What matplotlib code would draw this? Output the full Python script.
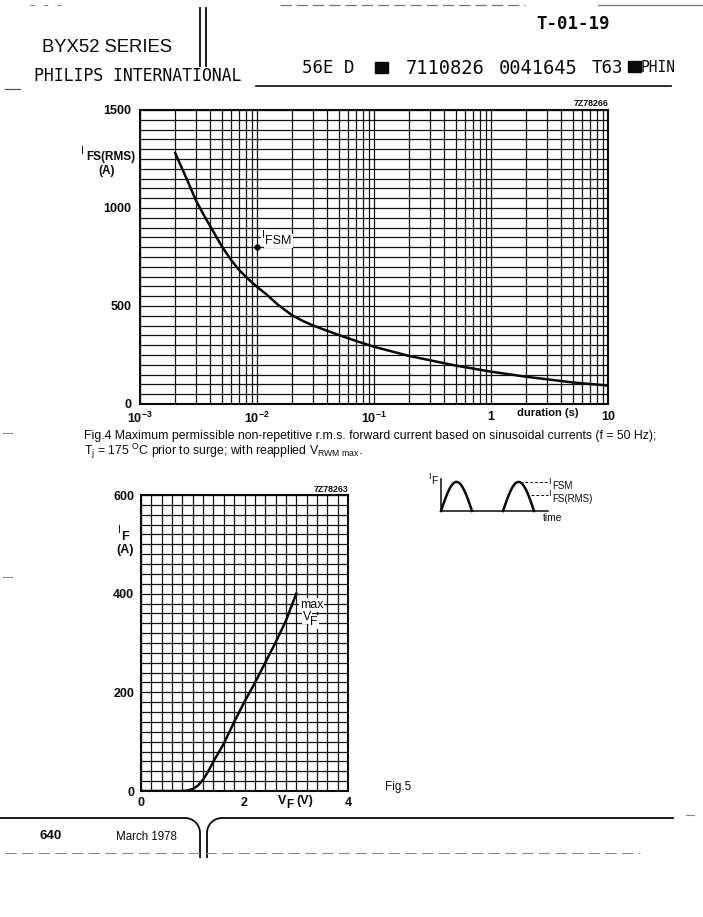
import numpy as np
import matplotlib.pyplot as plt
from matplotlib.patches import Rectangle
from matplotlib.ticker import FixedLocator, LogLocator, MultipleLocator, NullFormatter

plt.rcParams['font.family'] = ['Liberation Sans', 'DejaVu Sans']
plt.rcParams['mathtext.fontset'] = 'custom'
plt.rcParams['mathtext.rm'] = 'Liberation Sans'
plt.rcParams['mathtext.bf'] = 'Liberation Sans:bold'

# Fig.4 surge current vs duration
duration_s = [2e-3, 2.5e-3, 3e-3, 3.5e-3, 4e-3, 5e-3, 6e-3, 7e-3, 8e-3, 9e-3, 1e-2,
              1.2e-2, 1.5e-2, 2e-2, 2.5e-2, 3e-2, 4e-2, 5e-2, 7e-2, 1e-1,
              2e-1, 5e-1, 1, 2, 5, 10]
ifs_rms = [1280, 1150, 1040, 965, 905, 805, 735, 685, 650, 622, 598,
           560, 508, 452, 422, 401, 373, 352, 322, 292,
           245, 196, 165, 139, 110, 94]
ifsm_point = (1e-2, 800)
dur_ticks = [1e-3, 1e-2, 1e-1, 1, 10]
dur_ticklabels = [r'$\mathbf{10^{-3}}$', r'$\mathbf{10^{-2}}$', r'$\mathbf{10^{-1}}$', '1', '10']

# Fig.5 forward characteristic
vf = [0, 0.8, 0.9, 1.0, 1.1, 1.2, 1.3, 1.4, 1.5, 1.6, 1.8, 2.0, 2.2, 2.4, 2.6, 2.8, 3.0]
i_f = [0, 0, 1, 4, 11, 23, 40, 60, 78, 96, 140, 181, 219, 260, 301, 345, 400]

# waveform sketch: hump start/end times, peak and rms levels
humps = [(0.0, 1.0), (2.0, 3.0)]
peak_level = 1.0
rms_level = 0.55

W, H = 703, 917
fig = plt.figure(figsize=(W / 100, H / 100), dpi=100)

GRID = '#141414'
INK = '#0a0a0a'


def box(l, t, r, b):
    return [l / W, 1 - b / H, (r - l) / W, (b - t) / H]


def ptext(x, y, s, **kw):
    kw.setdefault('va', 'center')
    kw.setdefault('color', INK)
    return fig.text(x / W, 1 - y / H, s, **kw)


# page layer for rules and borders
page = fig.add_axes([0, 0, 1, 1])
page.set_xlim(0, W)
page.set_ylim(H, 0)
page.axis('off')

# ---- Fig.4 ----
ax1 = fig.add_axes(box(140, 110, 608, 404))
ax1.set_xscale('log')
ax1.set_xlim(1e-3, 10)
ax1.set_ylim(0, 1500)
ax1.xaxis.set_major_locator(FixedLocator(dur_ticks))
ax1.set_xticklabels(dur_ticklabels)
ax1.xaxis.set_minor_locator(LogLocator(base=10, subs=np.arange(2, 10), numticks=20))
ax1.xaxis.set_minor_formatter(NullFormatter())
ax1.yaxis.set_major_locator(MultipleLocator(500))
ax1.yaxis.set_minor_locator(MultipleLocator(50))
ax1.grid(which='both', color=GRID, lw=0.9)
ax1.tick_params(which='both', length=0, labelsize=9, colors=INK)
ax1.tick_params(axis='x', pad=5)
ax1.tick_params(axis='y', pad=6)
for lab in ax1.get_xticklabels() + ax1.get_yticklabels():
    lab.set_fontweight('bold')
for sp in ax1.spines.values():
    sp.set_linewidth(1.5)
    sp.set_color(INK)

ax1.plot(duration_s, ifs_rms, color=INK, lw=1.8)
ax1.plot(*ifsm_point, 'o', color=INK, ms=3.5)

ptext(84, 151, 'I', fontsize=7.5, ha='right')
ptext(135, 157, 'FS(RMS)', fontsize=8.5, fontweight='bold', ha='right')
ptext(107, 171, '(A)', fontsize=8.5, fontweight='bold', ha='center')
ptext(262, 235, 'I', fontsize=7.5,
      bbox=dict(facecolor='white', edgecolor='none', pad=0.5))
ptext(265, 241, 'FSM', fontsize=9,
      bbox=dict(facecolor='white', edgecolor='none', pad=0.8))
ptext(517, 413, 'duration (s)', fontsize=8, fontweight='bold')
ptext(608, 104, '7Z78266', fontsize=6.3, fontweight='bold', ha='right')

ptext(84, 436, 'Fig.4 Maximum permissible non-repetitive r.m.s. forward current based on '
      'sinusoidal currents (f = 50 Hz);', fontsize=8.85)
ptext(84, 451, r'T$_\mathregular{j}$ = 175 $^\mathregular{O}$C prior to surge; with reapplied '
      r'V$_\mathregular{RWM\ max}$.', fontsize=8.85)

# ---- Fig.5 ----
ax2 = fig.add_axes(box(141, 495, 348, 791))
ax2.set_xlim(0, 4)
ax2.set_ylim(0, 600)
ax2.xaxis.set_major_locator(MultipleLocator(2))
ax2.xaxis.set_minor_locator(MultipleLocator(0.2))
ax2.yaxis.set_major_locator(MultipleLocator(200))
ax2.yaxis.set_minor_locator(MultipleLocator(20))
ax2.grid(which='both', color=GRID, lw=0.9)
ax2.tick_params(which='both', length=0, labelsize=9, colors=INK)
ax2.tick_params(axis='x', pad=4)
ax2.tick_params(axis='y', pad=5)
for lab in ax2.get_xticklabels() + ax2.get_yticklabels():
    lab.set_fontweight('bold')
for sp in ax2.spines.values():
    sp.set_linewidth(1.5)
    sp.set_color(INK)

ax2.plot(vf, i_f, color=INK, lw=1.8)

ptext(118, 530, 'I', fontsize=7.5)
ptext(121, 537, 'F', fontsize=9, fontweight='bold')
ptext(125, 550, '(A)', fontsize=9, fontweight='bold', ha='center')
ptext(300, 605, 'max', fontsize=9,
      bbox=dict(facecolor='white', edgecolor='none', pad=0.6))
ptext(303, 617, 'V', fontsize=9,
      bbox=dict(facecolor='white', edgecolor='none', pad=0.6))
ptext(310, 622, 'F', fontsize=9,
      bbox=dict(facecolor='white', edgecolor='none', pad=0.6))
ptext(278, 801, 'V', fontsize=9, fontweight='bold')
ptext(286, 805, 'F', fontsize=8.5, fontweight='bold')
ptext(296, 801, '(V)', fontsize=9, fontweight='bold')
ptext(348, 489, '7Z78263', fontsize=6.3, fontweight='bold', ha='right')
ptext(385, 787, 'Fig.5', fontsize=8.5)

# ---- waveform sketch ----
ax3 = fig.add_axes(box(441, 479, 548, 511))
ax3.set_xlim(0, 3.45)
ax3.set_ylim(0, 1.1)
ax3.set_xticks([])
ax3.set_yticks([])
ax3.patch.set_alpha(0)
for side in ('top', 'right'):
    ax3.spines[side].set_visible(False)
for side in ('left', 'bottom'):
    ax3.spines[side].set_linewidth(1.1)
    ax3.spines[side].set_color(INK)
for t0, t1 in humps:
    t = np.linspace(t0, t1, 40)
    ax3.plot(t, peak_level * np.sin(np.pi * (t - t0) / (t1 - t0)), color=INK, lw=1.8,
             clip_on=False)
ax3.plot([2.55, 3.45], [peak_level, peak_level], color=INK, lw=0.7, ls=(0, (3, 2)),
         clip_on=False)
ax3.plot([2.9, 3.45], [rms_level, rms_level], color=INK, lw=0.7, ls=(0, (3, 2)),
         clip_on=False)
ptext(428, 477, 'I', fontsize=6.5)
ptext(431, 481, 'F', fontsize=7.5)
ptext(548, 481, 'I', fontsize=6.5)
ptext(552, 486, 'FSM', fontsize=7)
ptext(548, 494, 'I', fontsize=6.5)
ptext(552, 499, 'FS(RMS)', fontsize=7)
ptext(543, 518, 'time', fontsize=7.4)

# ---- page header ----
MONO = 'DejaVu Sans Mono'
ptext(42, 48, 'BYX52 SERIES', fontsize=13.3)
ptext(34, 76, 'PHILIPS INTERNATIONAL', fontsize=11.9, family=MONO)
ptext(536, 24, 'T-01-19', fontsize=12.5, family=MONO, fontweight='bold')
ptext(302, 68, '56E D', fontsize=12.5, family=MONO)
ptext(406, 68, '7110826', fontsize=13.5, family=MONO)
ptext(499, 68, '0041645', fontsize=13.5, family=MONO)
ptext(592, 68, 'T63', fontsize=12.5, family=MONO)
ptext(641, 67, 'PHIN', fontsize=10.5, family=MONO)
page.add_patch(Rectangle((375, 62), 13, 11, color=INK))
page.add_patch(Rectangle((628, 61), 13, 11, color=INK))

page.plot([200, 200], [8, 66], color=INK, lw=1.3)
page.plot([206, 206], [8, 66], color=INK, lw=1.3)
page.plot([256, 671], [86, 86], color=INK, lw=1.2)
page.plot([5, 20], [89, 89], color='#555555', lw=0.9)
page.plot([280, 525], [5, 5], color='#777777', lw=0.9, ls=(0, (9, 4)))
page.plot([598, 703], [5, 5], color='#777777', lw=0.9)
page.plot([30, 62], [5, 5], color='#888888', lw=0.8, ls=(0, (4, 8)))
page.plot([3, 12], [433, 433], color='#888888', lw=0.8)
page.plot([3, 12], [577, 577], color='#888888', lw=0.8)
page.plot([686, 694], [815, 815], color='#888888', lw=0.8)

# ---- page footer ----
r = 15
a = np.linspace(0, np.pi / 2, 20)
left_x = np.concatenate([[0], 185 + r * np.sin(a), [200]])
left_y = np.concatenate([[818], 833 - r * np.cos(a), [857]])
right_x = np.concatenate([[207], 222 - r * np.sin(a[::-1]), [673]])
right_y = np.concatenate([[857], 833 - r * np.cos(a[::-1]), [818]])
page.plot(left_x, left_y, color=INK, lw=1.3)
page.plot(right_x, right_y, color=INK, lw=1.3)
page.plot([5, 640], [853, 853], color='#888888', lw=0.8, ls=(0, (10, 5)))
ptext(40, 836, '640', fontsize=9.5, fontweight='bold')
ptext(116, 837, 'March 1978', fontsize=8.3)

fig.savefig('out.png', dpi=100)
